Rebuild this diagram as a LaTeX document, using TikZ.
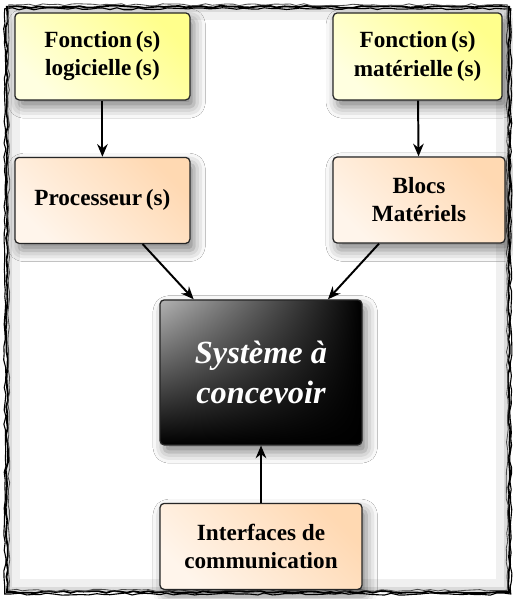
\documentclass[tikz,border=0pt]{standalone}
\usepackage{fontspec}
\setmainfont{Liberation Serif}
\usetikzlibrary{arrows.meta,shadings,shadows.blur,decorations.pathmorphing}
\tikzstyle{bloc}=[draw=black!85,line width=0.9pt,rounded corners=3pt,align=center,
  font=\fontsize{16.5}{20}\selectfont\bfseries,
  blur shadow={shadow xshift=3pt,shadow yshift=-5pt,shadow blur radius=8pt,shadow opacity=50}]
\tikzstyle{fonction}=[bloc,minimum height=2.175cm,left color=yellow!12,right color=yellow!45,shading angle=135]
\tikzstyle{materiel}=[bloc,minimum height=2.15cm,left color=orange!8,right color=orange!30,shading angle=135]
\tikzstyle{systeme}=[bloc,minimum width=5.05cm,minimum height=3.625cm,text=white,
  font=\fontsize{23}{28}\selectfont\bfseries\itshape,
  upper left=black!30,upper right=black,lower left=black,lower right=black]
\tikzstyle{cadre}=[line width=1.3pt,decorate,decoration={random steps,segment length=5pt,amplitude=0.8pt}]
\tikzstyle{lien}=[->,line width=1.4pt]

\begin{document}
\begin{tikzpicture}[>={Stealth[length=9pt,width=7.5pt]}]
\useasboundingbox (0,0) rectangle (12.825,-14.975);
% fond et cadre
\fill[black!14] (0.18,-0.18) rectangle (12.72,-14.8);
\fill[black!6] (0.3,-0.3) rectangle (12.6,-14.68);
\fill[white] (0.5,-0.5) rectangle (12.4,-14.48);
\draw[cadre] (0.17,-0.17) rectangle (12.73,-14.8);
\draw[cadre,line width=0.8pt] (0.12,-0.22) rectangle (12.77,-14.85);
\draw[cadre,line width=0.6pt,black!70] (0.22,-0.12) rectangle (12.68,-14.76);
% blocs
\node[fonction,minimum width=4.375cm] at (2.56,-1.41) (fl) {Fonction\,(s)\\logicielle\,(s)};
\node[fonction,minimum width=4.225cm] at (10.44,-1.41) (fm) {Fonction\,(s)\\matérielle\,(s)};
\node[materiel,minimum width=4.375cm] at (2.56,-5.01) (proc) {Processeur\,(s)};
\node[materiel,minimum width=4.3cm] at (10.475,-5.0) (blocs) {Blocs\\Matériels};
\node[systeme] at (6.525,-9.31) (sys) {Système à\\concevoir};
\node[materiel,minimum width=5.05cm] at (6.525,-13.66) (intf) {Interfaces de\\communication};
% liaisons
\draw[lien] (fl) -- (proc);
\draw[lien] (fm) -- (blocs);
\draw[lien] (proc) -- (sys);
\draw[lien] (blocs) -- (sys);
\draw[lien] (intf) -- (sys);
\end{tikzpicture}
\end{document}
